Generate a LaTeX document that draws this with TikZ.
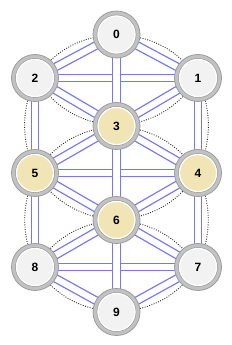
\documentclass[tikz,border=0pt]{standalone}
\usepackage{fontspec}
\setmainfont{Liberation Sans}
\pgfdeclarelayer{background}
\pgfsetlayers{background,main}
\definecolor{ringgray}{HTML}{C2C2C2}
\definecolor{ringedge}{HTML}{9C9C9C}
\definecolor{lightfill}{HTML}{F2F2F2}
\definecolor{yellowfill}{HTML}{F1E5B6}
\definecolor{pathblue}{RGB}{118,118,250}
\begin{document}
\begin{tikzpicture}[x=1pt,y=1pt,
  sephnode/.style={circle, minimum size=47pt, inner sep=0pt, fill=ringgray, draw=ringedge, line width=0.8pt,
    font=\bfseries\fontsize{12}{12}\selectfont,
    path picture={
      \draw[ringedge, line width=0.6pt] (path picture bounding box.center) circle (19.5pt);
      \fill[#1] (path picture bounding box.center) circle (18.5pt);
      \draw[white, line width=1.2pt] (path picture bounding box.center) circle (18.5pt);
    }},
  pathline/.style={draw=pathblue, line width=1.3pt, double=white, double distance=6.2pt},
  arcline/.style={draw=black!85, line width=0.9pt, dash pattern=on 0.9pt off 1.5pt}
]
\useasboundingbox (0,0) rectangle (232,345);
\node[sephnode=lightfill] (n0) at (116.5,310.5) {0};
\node[sephnode=lightfill] (n1) at (198,267) {1};
\node[sephnode=lightfill] (n2) at (35,267) {2};
\node[sephnode=yellowfill] (n3) at (116.5,219) {3};
\node[sephnode=yellowfill] (n4) at (198,172) {4};
\node[sephnode=yellowfill] (n5) at (35,172) {5};
\node[sephnode=yellowfill] (n6) at (116.5,125) {6};
\node[sephnode=lightfill] (n7) at (198,78) {7};
\node[sephnode=lightfill] (n8) at (35,78) {8};
\node[sephnode=lightfill] (n9) at (116.5,33) {9};
\begin{pgfonlayer}{background}
  % dotted arcs
  \foreach \a/\b in {n0/n1,n1/n3,n3/n2,n2/n0,n3/n4,n4/n6,n6/n5,n5/n3,n6/n7,n7/n9,n9/n8,n8/n6}
    \draw[arcline] (\a.center) to[bend left=25] (\b.center);
  \foreach \a/\b in {n2/n5,n5/n8}
    \draw[arcline] (\a.center) to[bend right=22] (\b.center);
  \foreach \a/\b in {n1/n4,n4/n7}
    \draw[arcline] (\a.center) to[bend left=22] (\b.center);
  % horizontal paths
  \foreach \a/\b in {n2/n1,n5/n4,n8/n7}
    \draw[pathline] (\a.center) -- (\b.center);
  % diagonal paths
  \foreach \a/\b in {n0/n1,n0/n2,n2/n3,n1/n3,n3/n4,n3/n5,n5/n6,n4/n6,n6/n7,n6/n8,n8/n9,n7/n9}
    \draw[pathline] (\a.center) -- (\b.center);
  % vertical paths
  \foreach \a/\b in {n0/n3,n3/n6,n6/n9,n2/n5,n5/n8,n1/n4,n4/n7}
    \draw[pathline] (\a.center) -- (\b.center);
\end{pgfonlayer}
\end{tikzpicture}
\end{document}
